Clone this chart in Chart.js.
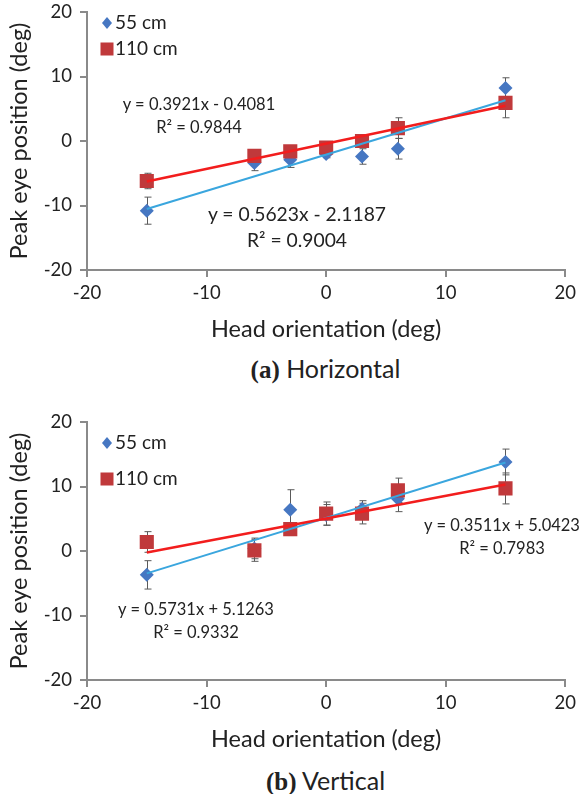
<!DOCTYPE html>
<html lang="en">
<head>
<meta charset="UTF-8">
<title>Peak eye position vs head orientation</title>
<script src="https://cdn.jsdelivr.net/npm/chart.js"></script>
<style>
  body { margin: 0; background: #fff; font-family: Lato, "Open Sans", sans-serif; color: #222; }
  .page { position: relative; width: 581px; height: 794px; overflow: hidden; }
  .chart-box { position: absolute; left: 0; width: 581px; height: 345px; }
  .eq { position: absolute; font-size: 16.5px; color: #222; text-align: center; white-space: nowrap; line-height: 22.5px; transform: translateX(-50%); }
  .eq.big { font-size: 19.3px; line-height: 26px; }
  .caption { position: absolute; width: 581px; text-align: center; font-size: 25px; line-height: 30px; left: 0; padding-left: 70px; box-sizing: border-box; }
  .caption b { font-family: "Liberation Serif", "DejaVu Serif", serif; }
</style>
</head>
<body>
<div class="page">
  <div class="chart-box" style="top:0"><canvas id="horizChart"></canvas></div>
  <div class="eq" style="left:199px;top:93px">y = 0.3921x - 0.4081<br>R² = 0.9844</div>
  <div class="eq big" style="left:297px;top:201px">y = 0.5623x - 2.1187<br>R² = 0.9004</div>
  <div class="caption" style="top:353px"><b>(a)</b> Horizontal</div>

  <div class="chart-box" style="top:410px"><canvas id="vertChart"></canvas></div>
  <div class="eq" style="left:502px;top:514px">y = 0.3511x + 5.0423<br>R² = 0.7983</div>
  <div class="eq" style="left:196px;top:598px">y = 0.5731x + 5.1263<br>R² = 0.9332</div>
  <div class="caption" style="top:765px"><b>(b)</b> Vertical</div>
</div>

<script>
// head orientation (deg), same for every series
const headAngles = [-15, -6, -3, 0, 3, 6, 15];

// (a) horizontal
const horiz55 = [-10.8, -3.4, -2.9, -2.0, -2.4, -1.2, 8.2];
const horiz55Err = [2.1, 1.2, 1.2, 0.6, 1.2, 1.6, 1.6];
const horiz110 = [-6.2, -2.3, -1.6, -1.0, 0.0, 2.0, 5.9];
const horiz110Err = [1.2, 0.6, 0.8, 0.5, 0.5, 1.6, 2.3];
const horizFit55 = [0.5623, -2.1187];   // slope, intercept
const horizFit110 = [0.3921, -0.4081];

// (b) vertical
const vert55 = [-3.7, 0.4, 6.4, 5.6, 6.5, 8.1, 13.8];
const vert55Err = [2.2, 1.6, 3.1, 1.6, 1.3, 2.0, 2.0];
const vert110 = [1.4, 0.1, 3.4, 5.8, 5.8, 9.4, 9.7];
const vert110Err = [1.6, 1.7, 1.0, 1.8, 1.6, 1.9, 2.4];
const vertFit55 = [0.5731, 5.1263];
const vertFit110 = [0.3511, 5.0423];

const axisTicks = [-20, -10, 0, 10, 20];
const seriesNames = ['55 cm', '110 cm'];

const blueMarker = '#4677c2';
const redMarker = '#c0393b';
const blueLine = '#3aa6de';
const redLine = '#f21d1d';
const fontFamily = 'Lato, "Open Sans", sans-serif';

function toPoints(xs, ys) {
  return xs.map((x, i) => ({ x: x, y: ys[i] }));
}

function fitLine(fit) {
  const x0 = headAngles[0], x1 = headAngles[headAngles.length - 1];
  return [{ x: x0, y: fit[0] * x0 + fit[1] }, { x: x1, y: fit[0] * x1 + fit[1] }];
}

// error bars, drawn under the markers
const errorBars = {
  id: 'errorBars',
  beforeDatasetsDraw(chart) {
    const ctx = chart.ctx;
    const xs = chart.scales.x, ys = chart.scales.y;
    ctx.save();
    ctx.strokeStyle = '#5a5a5a';
    ctx.lineWidth = 1;
    chart.data.datasets.forEach(ds => {
      if (!ds.errors) return;
      ds.data.forEach((p, i) => {
        const px = Math.round(xs.getPixelForValue(p.x)) + 0.5;
        const top = ys.getPixelForValue(p.y + ds.errors[i]);
        const bot = ys.getPixelForValue(p.y - ds.errors[i]);
        ctx.beginPath();
        ctx.moveTo(px, top); ctx.lineTo(px, bot);
        ctx.moveTo(px - 3, top); ctx.lineTo(px + 4, top);
        ctx.moveTo(px - 3, bot); ctx.lineTo(px + 4, bot);
        ctx.stroke();
      });
    });
    ctx.restore();
  }
};

// legend inside the plot, top left
const insideLegend = {
  id: 'insideLegend',
  afterDraw(chart, args, opts) {
    const ctx = chart.ctx;
    const left = chart.chartArea.left + 20;
    ctx.save();
    ctx.font = '19px ' + fontFamily;
    ctx.textBaseline = 'middle';
    // diamond
    let y = chart.chartArea.top + opts.rows[0];
    ctx.fillStyle = blueMarker;
    ctx.beginPath();
    ctx.moveTo(left, y - 6); ctx.lineTo(left + 5, y); ctx.lineTo(left, y + 6); ctx.lineTo(left - 5, y);
    ctx.closePath(); ctx.fill();
    ctx.fillStyle = '#222';
    ctx.fillText(seriesNames[0], left + 8, y);
    // square
    y = chart.chartArea.top + opts.rows[1];
    ctx.fillStyle = redMarker;
    ctx.fillRect(left - 6.5, y - 6.5, 13, 13);
    ctx.fillStyle = '#222';
    ctx.fillText(seriesNames[1], left + 8, y);
    ctx.restore();
  }
};

function makeChart(canvasId, d55, e55, d110, e110, fit55, fit110, legendRows) {
  const tickFont = { family: fontFamily, size: 18.5 };
  const titleFont = { family: fontFamily, size: 23.5 };
  const axisGrey = '#8a8a8a';
  return new Chart(document.getElementById(canvasId), {
    type: 'scatter',
    data: {
      datasets: [
        {
          label: 'fit 110', type: 'line', data: fitLine(fit110),
          borderColor: redLine, borderWidth: 2.5, pointRadius: 0, order: 0
        },
        {
          label: 'fit 55', type: 'line', data: fitLine(fit55),
          borderColor: blueLine, borderWidth: 2, pointRadius: 0, order: 1
        },
        {
          label: seriesNames[1], data: toPoints(headAngles, d110), errors: e110,
          pointStyle: 'rect', pointRadius: 10, backgroundColor: redMarker,
          borderColor: redMarker, borderWidth: 0, order: 2
        },
        {
          label: seriesNames[0], data: toPoints(headAngles, d55), errors: e55,
          pointStyle: 'rectRot', pointRadius: 7, backgroundColor: blueMarker,
          borderColor: blueMarker, borderWidth: 0, order: 3
        }
      ]
    },
    options: {
      responsive: true,
      maintainAspectRatio: false,
      animation: false,
      layout: { padding: { top: 12, right: 14, left: 0, bottom: 0 } },
      plugins: {
        legend: { display: false },
        tooltip: { enabled: false },
        insideLegend: { rows: legendRows }
      },
      scales: {
        x: {
          type: 'linear', min: -20, max: 20,
          afterBuildTicks: s => { s.ticks = axisTicks.map(v => ({ value: v })); },
          afterFit: s => { s.height = 75; },
          border: { color: axisGrey, width: 2 },
          grid: { drawOnChartArea: false, drawTicks: true, tickLength: 7, color: axisGrey, lineWidth: 2 },
          ticks: { font: tickFont, color: '#222', padding: 5, maxRotation: 0 },
          title: { display: true, text: 'Head orientation (deg)', font: titleFont, color: '#222', padding: { top: 0, bottom: 1 } }
        },
        y: {
          type: 'linear', min: -20, max: 20,
          afterBuildTicks: s => { s.ticks = axisTicks.map(v => ({ value: v })); },
          // fixed width, and keep the label padding from pushing the plot down
          afterFit: s => { s.width = 87; s.paddingTop = 0; s.paddingBottom = 0; },
          border: { color: axisGrey, width: 2 },
          grid: { drawOnChartArea: false, drawTicks: true, tickLength: 7, color: axisGrey, lineWidth: 2 },
          ticks: { font: tickFont, color: '#222', padding: 8 },
          title: { display: true, text: 'Peak eye position (deg)', font: titleFont, color: '#222', padding: { top: 5, bottom: 0 } }
        }
      }
    },
    plugins: [errorBars, insideLegend]
  });
}

makeChart('horizChart', horiz55, horiz55Err, horiz110, horiz110Err, horizFit55, horizFit110, [11, 37]);
makeChart('vertChart', vert55, vert55Err, vert110, vert110Err, vertFit55, vertFit110, [21, 57]);
</script>
</body>
</html>
